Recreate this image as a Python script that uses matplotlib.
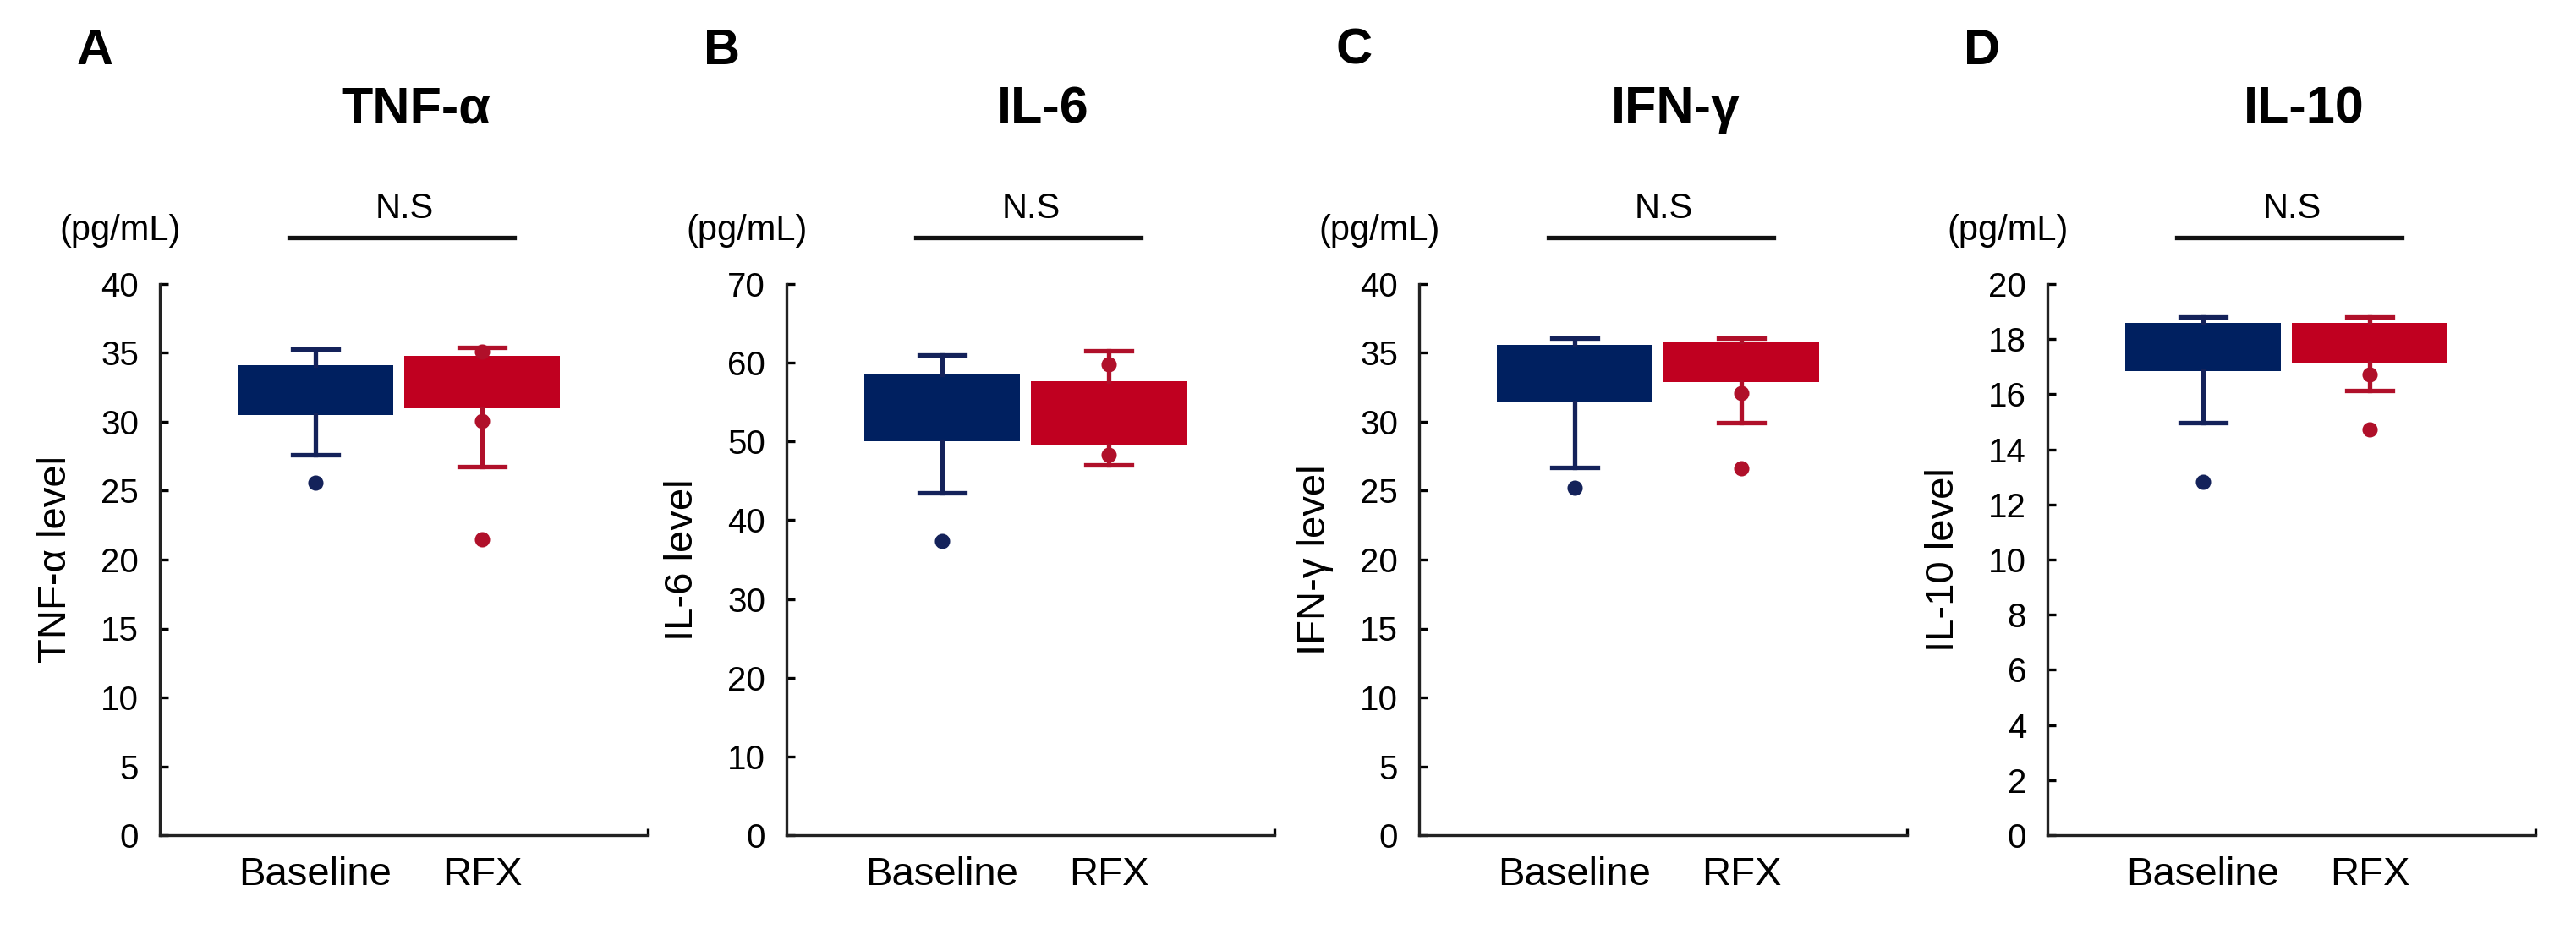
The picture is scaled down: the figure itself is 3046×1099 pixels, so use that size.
import matplotlib.pyplot as plt
import numpy as np

plt.rcParams['font.family'] = ['Liberation Sans', 'DejaVu Sans']

groups = ['Baseline', 'RFX']
panel_letters = ['A', 'B', 'C', 'D']
titles = ['TNF-α', 'IL-6', 'IFN-γ', 'IL-10']
ylabels = ['TNF-α level', 'IL-6 level', 'IFN-γ level', 'IL-10 level']
ymax = [40, 70, 40, 20]
ystep = [5, 10, 5, 2]

# values per panel as [Baseline, RFX]
q1 = [[30.5, 31.0], [50.0, 49.5], [31.4, 32.9], [16.83, 17.16]]
q3 = [[34.1, 34.8], [58.5, 57.7], [35.6, 35.8], [18.6, 18.6]]
wlo = [[27.6, 26.75], [43.5, 47.0], [26.7, 29.95], [14.98, 16.12]]
whi = [[35.3, 35.4], [61.0, 61.5], [36.1, 36.05], [18.81, 18.81]]
points = [[[25.6], [35.1, 30.05, 21.45]],
          [[37.4], [59.8, 48.3]],
          [[25.2], [32.1, 26.6]],
          [[12.82], [16.72, 14.72]]]

box_colors = ['#002060', '#C00020']
line_colors = ['#14225A', '#B0102A']

W, H = 3046, 1099
dpi = 200
fig = plt.figure(figsize=(W / dpi, H / dpi), dpi=dpi)

ax_left = [189, 930, 1678, 2421]
ax_w = 577
ax_top = 336
ax_bot = 988
step = 197.0
x0 = 1 - 184 / step
x1 = x0 + ax_w / step

def fx(px):
    return px / W

def fy(py):
    return 1 - py / H

for i in range(4):
    L = ax_left[i]
    ax = fig.add_axes([fx(L), fy(ax_bot), ax_w / W, (ax_bot - ax_top) / H])
    for j in range(2):
        st = [{'q1': q1[i][j], 'q3': q3[i][j], 'med': q3[i][j],
               'whislo': wlo[i][j], 'whishi': whi[i][j],
               'fliers': points[i][j]}]
        ax.bxp(st, positions=[j + 1], widths=0.93, capwidths=0.27,
               patch_artist=True, manage_ticks=False,
               boxprops=dict(facecolor=box_colors[j], edgecolor=box_colors[j], linewidth=0),
               whiskerprops=dict(color=line_colors[j], linewidth=1.9),
               capprops=dict(color=line_colors[j], linewidth=1.9),
               medianprops=dict(linewidth=0),
               flierprops=dict(marker='o', markersize=5.5,
                               markerfacecolor=line_colors[j],
                               markeredgecolor=line_colors[j]))
    ax.set_xlim(x0, x1)
    ax.set_ylim(0, ymax[i])
    ax.set_yticks(np.arange(0, ymax[i] + 0.1, ystep[i]))
    ax.set_xticks([1, 2])
    ax.set_xticklabels(groups, fontsize=17)
    ax.set_xticks([x1], minor=True)
    ax.tick_params(axis='x', which='major', length=0, pad=9)
    ax.tick_params(axis='x', which='minor', direction='in', length=3, width=1.2)
    ax.tick_params(axis='y', direction='in', length=3.5, width=1.2, pad=9, labelsize=14.5)
    for s in ['top', 'right']:
        ax.spines[s].set_visible(False)
    for s in ['left', 'bottom']:
        ax.spines[s].set_linewidth(1.2)
        ax.spines[s].set_color('#222222')

    fig.text(fx(L - 77), fy(60), panel_letters[i], fontsize=21.5, fontweight='bold',
             ha='center', va='center')
    fig.text(fx(L + 303), fy(130), titles[i], fontsize=22, fontweight='bold',
             ha='center', va='center')
    fig.text(fx(L + 289), fy(247), 'N.S', fontsize=15, ha='center', va='center')
    fig.lines.append(plt.Line2D([fx(L + 153), fx(L + 419)], [fy(281), fy(281)],
                                transform=fig.transFigure, color='#111111', linewidth=1.9))
    fig.text(fx(L - 47), fy(273), '(pg/mL)', fontsize=15, ha='center', va='center')
    fig.text(fx(L - 123), fy(662), ylabels[i], fontsize=17, rotation=90,
             ha='center', va='center')

plt.savefig('out.png', dpi=dpi)
